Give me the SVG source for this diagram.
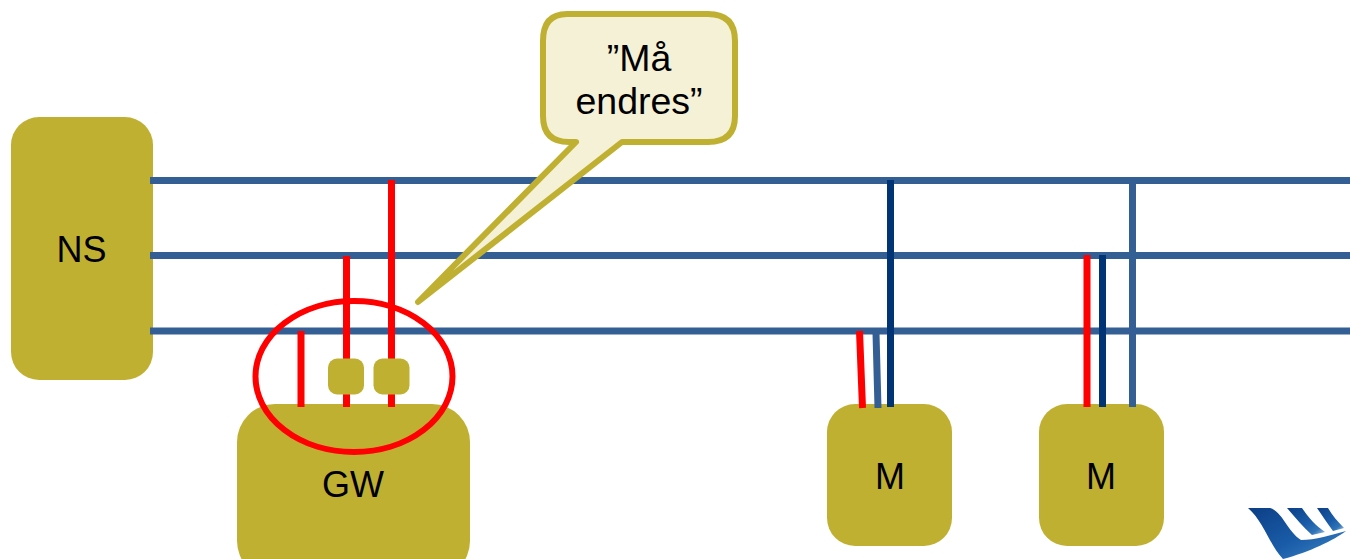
<svg xmlns="http://www.w3.org/2000/svg" width="1350" height="559" viewBox="0 0 1350 559">
<defs><linearGradient id="lg" x1="0" y1="0" x2="1" y2="1"><stop offset="0" stop-color="#0c3f86"/><stop offset="0.55" stop-color="#1a5ca8"/><stop offset="0.8" stop-color="#2f74b8"/><stop offset="1" stop-color="#a8c4e0"/></linearGradient></defs>
<style>
.n{fill:#c0b032}
.t{font-family:"Liberation Sans",Arial,sans-serif;font-size:36px;fill:#000;text-anchor:middle}
.c{font-size:37.500px}
.b{stroke:#335f94;stroke-width:7;fill:none}
.d{stroke:#003474;stroke-width:7;fill:none}
.r{stroke:#ff0000;stroke-width:7;fill:none}
</style>
<g id="ns"><rect class="n" x="11" y="117" width="142" height="263" rx="28"/><text class="t" x="81.500" y="262">NS</text></g>
<g id="gw"><rect class="n" x="237" y="404" width="233" height="175" rx="38"/><text class="t" x="353" y="497">GW</text></g>
<g id="m1"><rect class="n" x="827" y="404" width="125" height="142" rx="28"/><text class="t" x="890" y="489">M</text></g>
<g id="m2"><rect class="n" x="1039" y="404" width="125" height="142" rx="28"/><text class="t" x="1101" y="489">M</text></g>
<g id="connectors">
<path class="b" d="M150 180.500H1350M150 255.500H1350M150 331H1350"/>
<path class="b" d="M876 333L878 408M1132.500 180V407"/>
<path class="d" d="M890.500 180V407M1102.500 255V407"/>
<path class="r" d="M301 331V407M346.500 256V407M391.500 180V407M859.500 331L862.500 408M1087 255V407"/>
</g>
<g id="port1"><rect class="n" x="328" y="358.500" width="36" height="36" rx="9"/></g>
<g id="port2"><rect class="n" x="373.500" y="358.500" width="36" height="36" rx="9"/></g>
<ellipse id="highlight" cx="354" cy="376.500" rx="98.500" ry="75.500" fill="none" stroke="#ff0000" stroke-width="6"/>
<g id="callout">
<path d="M567 14H708Q735 14 735 41V116Q735 142 708 142H622L418 302L576 142H569Q543 142 543 116V41Q543 14 567 14Z" fill="#f4f1d6" stroke="#c0b032" stroke-width="6" stroke-linejoin="round"/>
<text class="t c" x="639" y="71">”Må</text><text class="t c" x="639" y="114">endres”</text>
</g>
<g id="logo" fill="url(#lg)">
<path d="M1248 508H1270C1282 511 1288 532 1301 540C1315 540 1332 535 1346 531C1334 540 1310 552 1283 559C1270 546 1264 522 1248 508Z"/>
<path d="M1287 508H1302C1308 517 1316 526 1325 532L1312 535C1303 527 1295 517 1287 508Z"/>
<path d="M1317 508H1328C1332 515 1338 522 1344 528L1333 531C1327 523 1322 515 1317 508Z"/>
</g>
</svg>
